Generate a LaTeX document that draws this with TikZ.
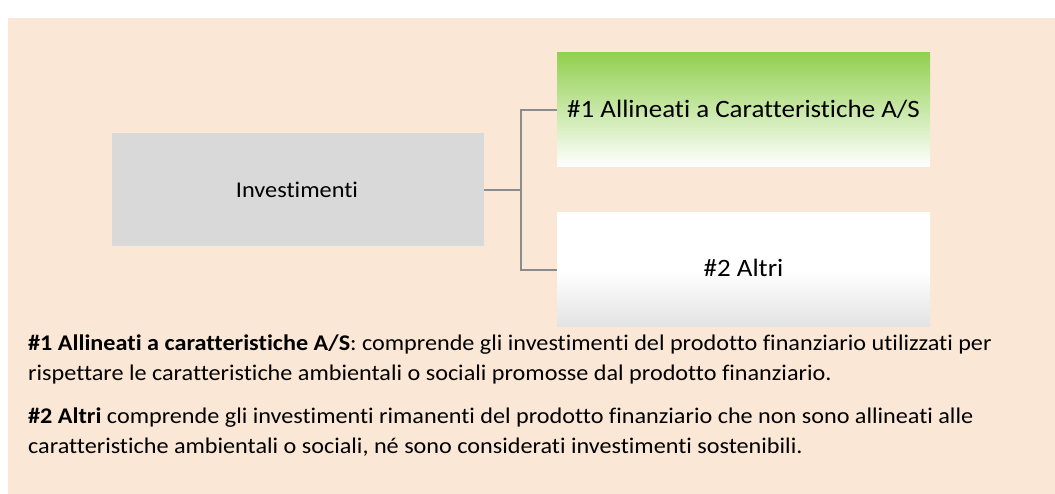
\documentclass[tikz,border=0pt]{standalone}
\usepackage{fontspec}
\setmainfont{Carlito}[Ligatures=NoCommon,FakeStretch=1.08]
\definecolor{bgpeach}{HTML}{FBE7D6}
\definecolor{boxgray}{HTML}{D9D9D9}
\definecolor{greentop}{HTML}{92D050}
\definecolor{linegray}{HTML}{8C8C8C}
\definecolor{botgray}{HTML}{E3E3E3}
\begin{document}
\begin{tikzpicture}[x=1pt,y=-1pt,
  catbox/.style={draw=none,inner sep=0pt,minimum width=373pt,minimum height=114pt},
  lbl/.style={anchor=base,inner sep=0pt},
  branch/.style={draw=linegray,line width=1.3pt},
  para/.style={anchor=base west,inner sep=0pt,align=left,font=\fontsize{22.4}{29.6}\selectfont}]
\useasboundingbox (0,0) rectangle (1055,494);
\fill[bgpeach] (8,18) rectangle (1055,494);
\node[catbox,fill=boxgray,minimum width=372pt,minimum height=113pt] (inv) at (298,190) {};
\node[lbl,font=\fontsize{22.5}{26}\selectfont] (invt) at (297,197.3) {Investimenti};
\node[catbox,top color=greentop,bottom color=white] (al) at (743.5,110) {};
\node[lbl,font=\fontsize{25}{29}\selectfont] (alt) at (743.5,117.3) {\#1 Allineati a Caratteristiche A/S};
\node[catbox,top color=white,bottom color=botgray,middle color=white] (ot) at (743.5,270) {};
\node[lbl,font=\fontsize{25}{29}\selectfont] (ott) at (743.5,276.7) {\#2 Altri};
\coordinate (j) at (521,190);
\draw[branch] (inv.east) -- (j);
\draw[branch] (j) |- (al.west);
\draw[branch] (j) |- (ot.west);
\node[para] (p1) at (28,380.3) {\textbf{\#1 Allineati a caratteristiche A/S}: comprende gli investimenti del prodotto finanziario utilizzati per\\rispettare le caratteristiche ambientali o sociali promosse dal prodotto finanziario.};
\node[para] (p2) at (28,453.3) {\textbf{\#2 Altri} comprende gli investimenti rimanenti del prodotto finanziario che non sono allineati alle\\caratteristiche ambientali o sociali, né sono considerati investimenti sostenibili.};
\end{tikzpicture}
\end{document}
